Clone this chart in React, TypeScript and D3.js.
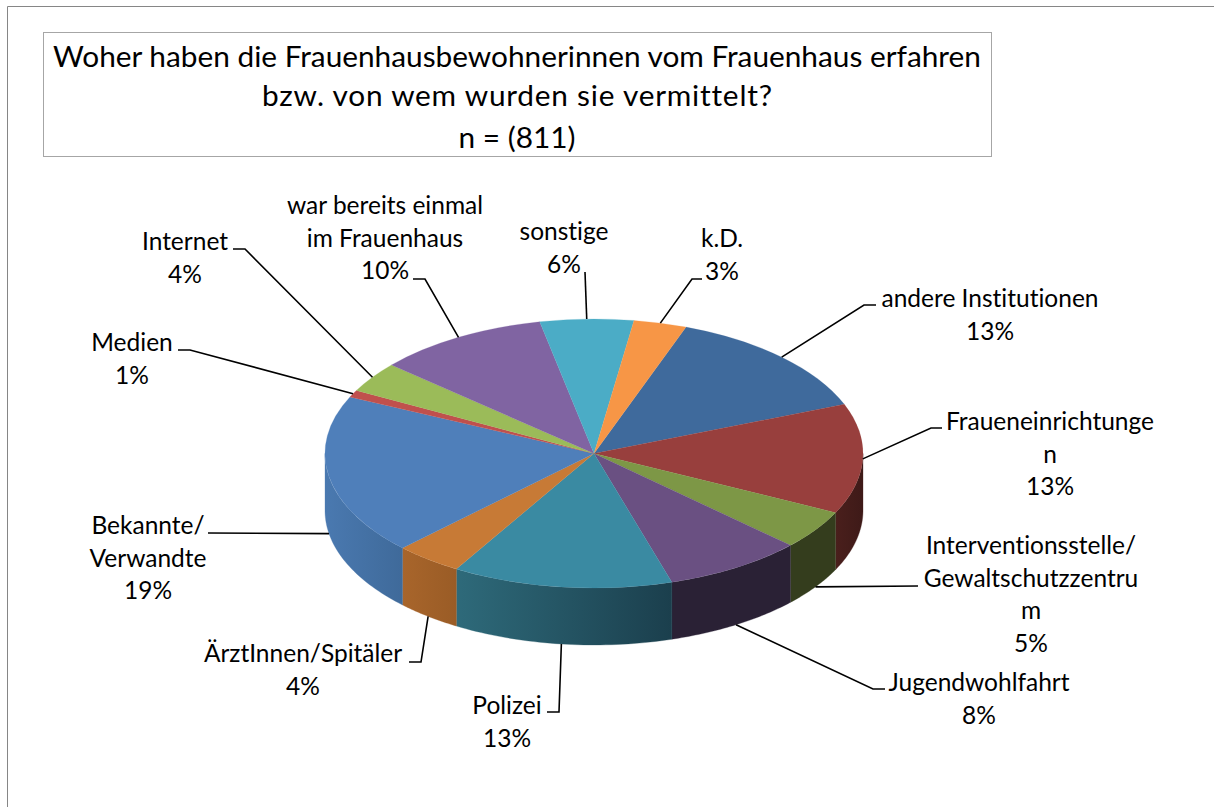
import React from "react";
import * as d3 from "d3";

const categories = ["andere Institutionen","Fraueneinrichtungen","Interventionsstelle/Gewaltschutzzentrum","Jugendwohlfahrt","Polizei","ÄrztInnen/Spitäler","Bekannte/Verwandte","Medien","Internet","war bereits einmal im Frauenhaus","sonstige","k.D."];
const shares = [13.47,13.22,4.72,8.36,13.22,4.06,19.3,0.86,3.67,10.33,5.61,3.18];
const percentLabels = ["13%","13%","5%","8%","13%","4%","19%","1%","4%","10%","6%","3%"];
const wrappedNames = [["andere Institutionen"],["Fraueneinrichtunge","n"],["Interventionsstelle/","Gewaltschutzzentru","m"],["Jugendwohlfahrt"],["Polizei"],["ÄrztInnen/Spitäler"],["Bekannte/","Verwandte"],["Medien"],["Internet"],["war bereits einmal","im Frauenhaus"],["sonstige"],["k.D."]];
const topColors = ["#3f6a9c","#983f3d","#7d9746","#6a5082","#3a8aa2","#c77a36","#4f7fba","#c0504d","#9bbb59","#8064a2","#4bacc6","#f79646"];
const sideFrom = ["#3f6a9c","#4a1f1c","#343d1d","#2a2135","#2e6a7a","#a8652b","#4a79b0","#c0504d","#9bbb59","#8064a2","#4bacc6","#f79646"];
const sideTo = ["#3f6a9c","#3e1a18","#343d1d","#2a2135","#1b3f4d","#9a5c26","#3f6a9a","#c0504d","#9bbb59","#8064a2","#4bacc6","#f79646"];
const titleLines = ["Woher haben die Frauenhausbewohnerinnen vom Frauenhaus erfahren","bzw. von wem wurden sie vermittelt?","n = (811)"];

// label layout: text centre, first baseline, leader stub (outer end, elbow)
const labelX = [990,1050,1031,979,507,303,148,132,185,385,564,722];
const labelY = [307,430,554,691,714,662,534,351,250,214,240,247];
const stubs: number[][][] = [
  [[876,305],[864,305]],
  [[942,428],[931,428]],
  [[918,586],[918,586]],
  [[885,689],[873,689]],
  [[547,712],[559,712]],
  [[409,662],[421,662]],
  [[208,533],[208,533]],
  [[178,350],[190,350]],
  [[233,249],[245,249]],
  [[413,279],[425,279]],
  [[585,272],[585,272]],
  [[702,279],[692,279]],
];
const lineGap = 32.6;

const cx = 594, cy = 453.5, rx = 269, ry = 134.5, depth = 57;
const startDeg = 20;
const rad = (d: number) => (d * Math.PI) / 180;

const pie = d3.pie<number>().sort(null).startAngle(rad(startDeg)).endAngle(rad(startDeg + 360));
const arcs = pie(shares);
const arcGen = d3.arc<d3.PieArcDatum<number>>().innerRadius(0).outerRadius(rx);
const px = (a: number) => cx + rx * Math.sin(a);
const py = (a: number, dz = 0) => cy - ry * Math.cos(a) + dz;

function sidePath(a0: number, a1: number) {
  const lo = Math.max(a0, Math.PI / 2), hi = Math.min(a1, (3 * Math.PI) / 2);
  if (hi <= lo) return null;
  const ts = d3.range(0, 41).map((i) => lo + ((hi - lo) * i) / 40);
  const l = d3.line<[number, number]>();
  const top = ts.map((t) => [px(t), py(t)] as [number, number]);
  const bottom = ts.slice().reverse().map((t) => [px(t), py(t, depth)] as [number, number]);
  return { d: l(top.concat(bottom)) + "Z", x1: px(lo), x2: px(hi) };
}

const font = "Lato, 'Open Sans', sans-serif";

export default function App() {
  return (
    <svg width={1214} height={807} style={{ position: "absolute", left: 0, top: 0, background: "#fff", fontVariantLigatures: "none" }} fontFamily={font}>
      <path d="M7.5 807V6.5H1214" fill="none" stroke="#868686" strokeWidth={1} />
      <rect x={43.5} y={32.5} width={948} height={124} fill="#fff" stroke="#a6a6a6" />
      {titleLines.map((t, i) => (
        <text key={i} x={517} y={[67, 106, 148][i]} textAnchor="middle" fontSize={29.8} fill="#000" textLength={i === 1 ? 510 : undefined}>{t}</text>
      ))}
      <defs>
        {arcs.map((a, i) => {
          const sp = sidePath(a.startAngle, a.endAngle);
          return sp ? (
            <linearGradient key={i} id={`side${i}`} gradientUnits="userSpaceOnUse" x1={sp.x1} x2={sp.x2} y1={0} y2={0}>
              <stop offset="0" stopColor={sideTo[i]} />
              <stop offset="1" stopColor={sideFrom[i]} />
            </linearGradient>
          ) : null;
        })}
      </defs>
      {arcs.map((a, i) => {
        const sp = sidePath(a.startAngle, a.endAngle);
        return sp ? <path key={i} d={sp.d} fill={`url(#side${i})`} stroke={`url(#side${i})`} strokeWidth={0.3} /> : null;
      })}
      <g transform={`translate(${cx},${cy}) scale(1,${ry / rx})`}>
        {arcs.map((a, i) => (
          <path key={i} d={arcGen(a) || ""} fill={topColors[i]} stroke={topColors[i]} strokeWidth={0.3} />
        ))}
      </g>
      {arcs.map((a, i) => {
        const mid = (a.startAngle + a.endAngle) / 2;
        const front = mid > rad(100) && mid < rad(265);
        const end: [number, number] = [px(mid), py(mid, front ? depth : 0)];
        const pts = stubs[i].map((p) => p as [number, number]).concat([end]);
        return <path key={i} d={d3.line()(pts) || ""} fill="none" stroke="#000" strokeWidth={1.6} />;
      })}
      {categories.map((c, i) => {
        const lines = wrappedNames[i].concat([percentLabels[i]]);
        return (
          <text key={c} textAnchor="middle" fontSize={24.5} fill="#000">
            {lines.map((t, j) => (
              <tspan key={j} x={labelX[i]} y={labelY[i] + j * lineGap}>{t}</tspan>
            ))}
          </text>
        );
      })}
    </svg>
  );
}
